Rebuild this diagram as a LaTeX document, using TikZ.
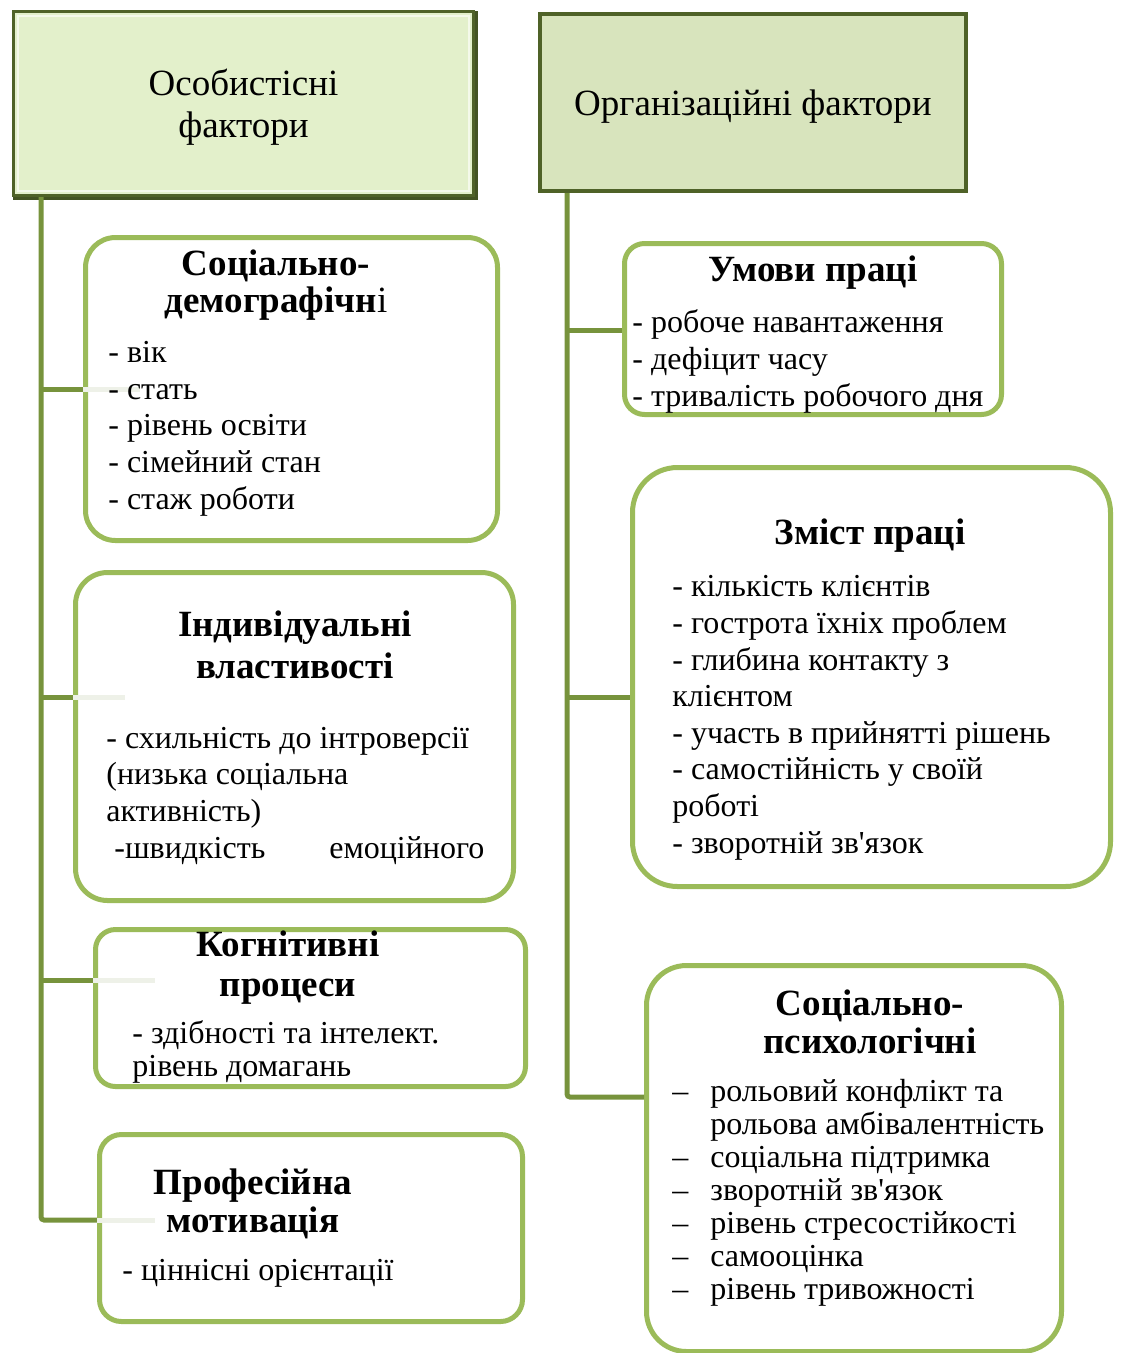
\documentclass[tikz,border=0pt]{standalone}
\usepackage{fontspec}
\setmainfont{Liberation Serif}[Ligatures=TeXOff]
\usetikzlibrary{calc}

\definecolor{hdrfillL}{RGB}{227,240,203}
\definecolor{hdrfillR}{RGB}{216,228,189}
\definecolor{hdrline}{RGB}{79,98,40}
\definecolor{boxline}{RGB}{155,187,89}
\definecolor{spinecol}{RGB}{119,147,60}
\definecolor{ghostcol}{RGB}{238,241,232}

\tikzset{every picture/.style={line width=0.75pt}}
\tikzset{
  hdrbox/.style={draw=hdrline, line width=3pt, inner sep=0},
  factbox/.style={draw=boxline, line width=5pt, fill=white, inner sep=0},
  spine/.style={draw=spinecol, line width=5pt},
  ghost/.style={draw=ghostcol, line width=5pt},
  hdrtxt/.style={font=\fontsize{37}{42}\selectfont, align=center, inner sep=0},
  ttl/.style={font=\bfseries\fontsize{37}{37}\selectfont, align=center, inner sep=0, anchor=base},
  lst/.style={font=\fontsize{32}{36.6}\selectfont, align=left, inner sep=0, anchor=base west}
}

\begin{document}
\begin{tikzpicture}[x=1pt,y=1pt,yscale=-1,xscale=1]
\useasboundingbox (0,0) rectangle (1120,1353);

%Shape: Rectangle [id:hdrL] 
\draw[hdrline!85!black, line width=3pt] (14,12) rectangle (476,198);
\node[hdrbox, fill=hdrfillL, minimum width=460, minimum height=184] (hdrL) at (243.5,103.5) {};
\draw[white!60!hdrfillL, line width=2pt] ([shift={(6,6)}]hdrL.north west) rectangle ([shift={(-6,-6)}]hdrL.south east);
%Shape: Rectangle [id:hdrR] 
\node[hdrbox, fill=hdrfillR, line width=4pt, minimum width=426, minimum height=177] (hdrR) at (753,102.5) {};

%Shape: Rounded Rect [id:demo] 
\node[factbox, rounded corners=30, minimum width=412, minimum height=303] (demo) at (291.5,389) {};
%Shape: Rounded Rect [id:indiv] 
\node[factbox, rounded corners=32, minimum width=438, minimum height=328] (indiv) at (294.5,736.5) {};
%Shape: Rounded Rect [id:kogn] 
\node[factbox, rounded corners=20, minimum width=430, minimum height=157] (kogn) at (310.5,1008) {};
%Shape: Rounded Rect [id:motiv] 
\node[factbox, rounded corners=22, minimum width=423, minimum height=187] (motiv) at (311,1228) {};
%Shape: Rounded Rect [id:umovy] 
\node[factbox, rounded corners=20, minimum width=377, minimum height=171] (umovy) at (813,329) {};
%Shape: Rounded Rect [id:zmist] 
\node[factbox, rounded corners=45, minimum width=478, minimum height=419] (zmist) at (871.5,677) {};
%Shape: Rounded Rect [id:sopsy] 
\node[factbox, rounded corners=40, minimum width=415, minimum height=386] (sopsy) at (854,1158.5) {};

%Straight Lines [id:spineL] 
\coordinate (jL1) at (41,389);
\coordinate (jL2) at (41,697);
\coordinate (jL3) at (41,980);
\coordinate (jL4) at (41,1220);
\draw[spine, rounded corners=3] (hdrL.south -| jL4) |- (jL4 -| motiv.west);
\draw[spine] (jL1) -- (jL1 -| demo.west);
\draw[spine] (jL2) -- (jL2 -| indiv.west);
\draw[spine] (jL3) -- (jL3 -| kogn.west);
\draw[ghost] (jL1 -| demo.west) -- ++(57,0);
\draw[ghost] (jL2 -| indiv.west) -- ++(52,0);
\draw[ghost] (jL3 -| kogn.west) -- ++(62,0);
\draw[ghost] (jL4 -| motiv.west) -- ++(58,0);

%Straight Lines [id:spineR] 
\coordinate (jR1) at (567,330);
\coordinate (jR2) at (567,697);
\coordinate (jR3) at (567,1097);
\draw[spine, rounded corners=3] (hdrR.south -| jR3) |- (jR3 -| sopsy.west);
\draw[spine] (jR1) -- (jR1 -| umovy.west);
\draw[spine] (jR2) -- (jR2 -| zmist.west);

% Text Node
\node[hdrtxt] (hdrLtxt) at ([yshift=4]hdrL) {Особистісні\\фактори};
% Text Node
\node[hdrtxt] (hdrRtxt) at ([yshift=4]hdrR) {Організаційні фактори};

% Text Node
\node[ttl] (demoT) at (276,312) {Соціально-\\демографічн\textmd{і}};
% Text Node
\node[lst] (demoL) at (108,509) {- вік\\- стать\\- рівень освіти\\- сімейний стан\\- стаж роботи};
% Text Node
\node[ttl, font=\bfseries\fontsize{37}{42}\selectfont] (indivT) at (295,678) {Індивідуальні\\властивості};
% Text Node
\node[lst] (indivL) at (106,858) {- схильність до інтроверсії\\(низька соціальна\\активність)\\\makebox[378pt][l]{\hspace*{8pt}-швидкість\hfill емоційного}};
% Text Node
\node[ttl, font=\bfseries\fontsize{37}{40}\selectfont] (kognT) at (288,996) {Когнітивні\\процеси};
% Text Node
\node[lst, font=\fontsize{32}{33}\selectfont] (kognL) at (132,1076) {- здібності та інтелект.\\рівень домагань};
% Text Node
\node[ttl, font=\bfseries\fontsize{37}{38}\selectfont] (motivT) at (253,1232) {Професійна\\мотивація};
% Text Node
\node[lst] (motivL) at (122,1280) {- ціннісні орієнтації};

% Text Node
\node[ttl] (umovyT) at (813,281) {Умови праці};
% Text Node
\node[lst, font=\fontsize{32}{37}\selectfont] (umovyL) at (632,406) {- робоче навантаження\\- дефіцит часу\\- тривалість робочого дня};
% Text Node
\node[ttl] (zmistT) at (870,544) {Зміст праці};
% Text Node
\node[lst] (zmistL) at (672,853) {- кількість клієнтів\\- гострота їхніх проблем\\- глибина контакту з\\клієнтом\\- участь в прийнятті рішень\\- самостійність у своїй\\роботі\\- зворотній зв'язок};
% Text Node
\node[ttl, font=\bfseries\fontsize{37}{38}\selectfont] (sopsyT) at (870,1053) {Соціально-\\психологічні};
% Text Node
\node[lst, font=\fontsize{32}{33}\selectfont] (sopsyL) at (672,1299) {\makebox[38pt][l]{–}рольовий конфлікт та\\\hspace*{38pt}рольова амбівалентність\\\makebox[38pt][l]{–}соціальна підтримка\\\makebox[38pt][l]{–}зворотній зв'язок\\\makebox[38pt][l]{–}рівень стресостійкості\\\makebox[38pt][l]{–}самооцінка\\\makebox[38pt][l]{–}рівень тривожності};

\end{tikzpicture}
\end{document}
